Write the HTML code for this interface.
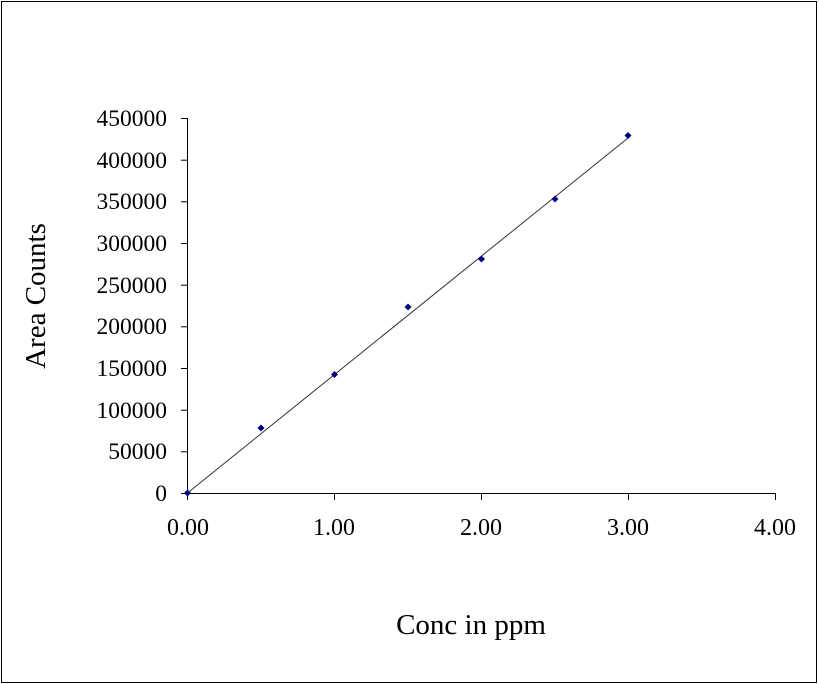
<!DOCTYPE html>
<html><head><style>html,body{margin:0;padding:0;background:#fff}svg{display:block}</style></head>
<body>
<svg width="819" height="684" xmlns="http://www.w3.org/2000/svg" font-family="Liberation Serif, serif">
<rect x="1.5" y="1.5" width="815" height="681" fill="#fff" stroke="#000" stroke-width="1"/>
<g stroke="#000" stroke-width="1" fill="none">
<line x1="187.5" y1="118" x2="187.5" y2="493.5"/>
<line x1="187" y1="493.5" x2="775.5" y2="493.5"/>
<line x1="181" y1="118.5" x2="187.5" y2="118.5"/>
<line x1="181" y1="160.2" x2="187.5" y2="160.2"/>
<line x1="181" y1="201.8" x2="187.5" y2="201.8"/>
<line x1="181" y1="243.5" x2="187.5" y2="243.5"/>
<line x1="181" y1="285.2" x2="187.5" y2="285.2"/>
<line x1="181" y1="326.8" x2="187.5" y2="326.8"/>
<line x1="181" y1="368.5" x2="187.5" y2="368.5"/>
<line x1="181" y1="410.2" x2="187.5" y2="410.2"/>
<line x1="181" y1="451.8" x2="187.5" y2="451.8"/>
<line x1="181" y1="493.5" x2="187.5" y2="493.5"/>
<line x1="187.5" y1="493.5" x2="187.5" y2="500"/>
<line x1="334.5" y1="493.5" x2="334.5" y2="500"/>
<line x1="481.5" y1="493.5" x2="481.5" y2="500"/>
<line x1="628.5" y1="493.5" x2="628.5" y2="500"/>
<line x1="775.5" y1="493.5" x2="775.5" y2="500"/>
</g>
<line x1="187.5" y1="493" x2="628" y2="138" stroke="#333" stroke-width="1"/>
<g fill="#00007f">
<polygon points="187.5,489.5 191,493 187.5,496.5 184,493"/>
<polygon points="261,424.5 264.5,428 261,431.5 257.5,428"/>
<polygon points="334.5,371 338,374.5 334.5,378 331,374.5"/>
<polygon points="408,303.5 411.5,307 408,310.5 404.5,307"/>
<polygon points="481.5,255.5 485,259 481.5,262.5 478,259"/>
<polygon points="555,195.5 558.5,199 555,202.5 551.5,199"/>
<polygon points="628,132 631.5,135.5 628,139 624.5,135.5"/>
</g>
<g font-size="23.5" fill="#000" text-anchor="end">
<text x="167" y="126">450000</text>
<text x="167" y="168">400000</text>
<text x="167" y="209">350000</text>
<text x="167" y="251">300000</text>
<text x="167" y="293">250000</text>
<text x="167" y="334">200000</text>
<text x="167" y="376">150000</text>
<text x="167" y="418">100000</text>
<text x="167" y="459">50000</text>
<text x="167" y="501">0</text>
</g>
<g font-size="24" fill="#000" text-anchor="middle">
<text x="188" y="535">0.00</text>
<text x="334" y="535">1.00</text>
<text x="481" y="535">2.00</text>
<text x="628" y="535">3.00</text>
<text x="775" y="535">4.00</text>
</g>
<text x="471" y="634" font-size="29" text-anchor="middle">Conc in ppm</text>
<text transform="translate(45,296) rotate(-90)" font-size="29" text-anchor="middle">Area Counts</text>
</svg>
</body></html>
